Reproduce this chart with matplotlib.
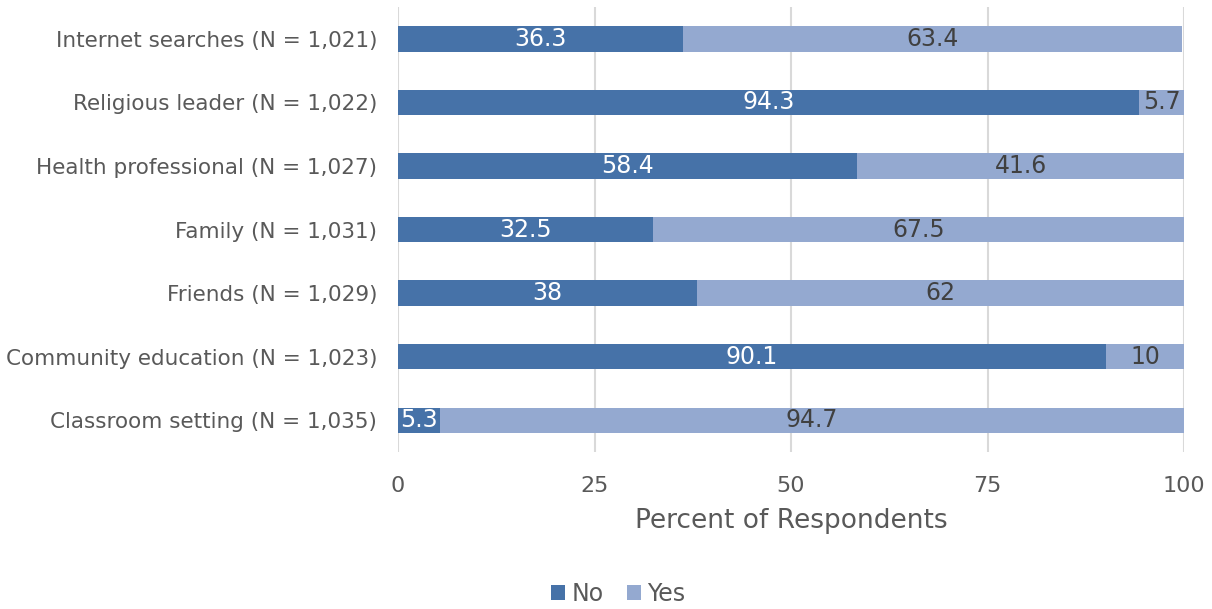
import matplotlib.pyplot as plt
import numpy as np

categories = ['Internet searches (N = 1,021)', 'Religious leader (N = 1,022)',
              'Health professional (N = 1,027)', 'Family (N = 1,031)',
              'Friends (N = 1,029)', 'Community education (N = 1,023)',
              'Classroom setting (N = 1,035)']
no_vals = [36.3, 94.3, 58.4, 32.5, 38, 90.1, 5.3]
yes_vals = [63.4, 5.7, 41.6, 67.5, 62, 10, 94.7]

c_no = '#4672A8'
c_yes = '#94A9D0'
grey = '#595959'

fig = plt.figure(figsize=(12.12, 6.09), dpi=100)
ax = fig.add_axes([0.3284, 0.2578, 0.6485, 0.7307])

y = np.arange(len(categories))
b1 = ax.barh(y, no_vals, height=0.4, color=c_no, label='No', zorder=3)
b2 = ax.barh(y, yes_vals, left=no_vals, height=0.4, color=c_yes, label='Yes', zorder=3)

for i in range(len(categories)):
    ax.text(no_vals[i] / 2, y[i], str(no_vals[i]), ha='center', va='center',
            color='white', fontsize=17, zorder=4)
    ax.text(no_vals[i] + yes_vals[i] / 2, y[i], str(yes_vals[i]), ha='center', va='center',
            color='#404040', fontsize=17, zorder=4)

ax.set_xlim(0, 100)
ax.set_ylim(len(categories) - 0.5, -0.5)
ax.set_xticks([0, 25, 50, 75, 100])
ax.set_yticks(y)
ax.set_yticklabels(categories)
ax.tick_params(axis='both', length=0, colors=grey)
ax.tick_params(axis='x', pad=17, labelsize=16)
ax.tick_params(axis='y', pad=15, labelsize=15.5)
ax.grid(axis='x', color='#D9D9D9', linewidth=1.5, zorder=0)
for s in ax.spines.values():
    s.set_visible(False)
ax.set_xlabel('Percent of Respondents', fontsize=19, color=grey, labelpad=9)

fig.legend(handles=[b1, b2], loc='center', bbox_to_anchor=(0.51, 0.025), ncol=2,
           frameon=False, fontsize=17, handlelength=0.6, handleheight=0.6,
           handletextpad=0.25, columnspacing=1.0, labelcolor=grey)

fig.savefig('out.png', dpi=100)
